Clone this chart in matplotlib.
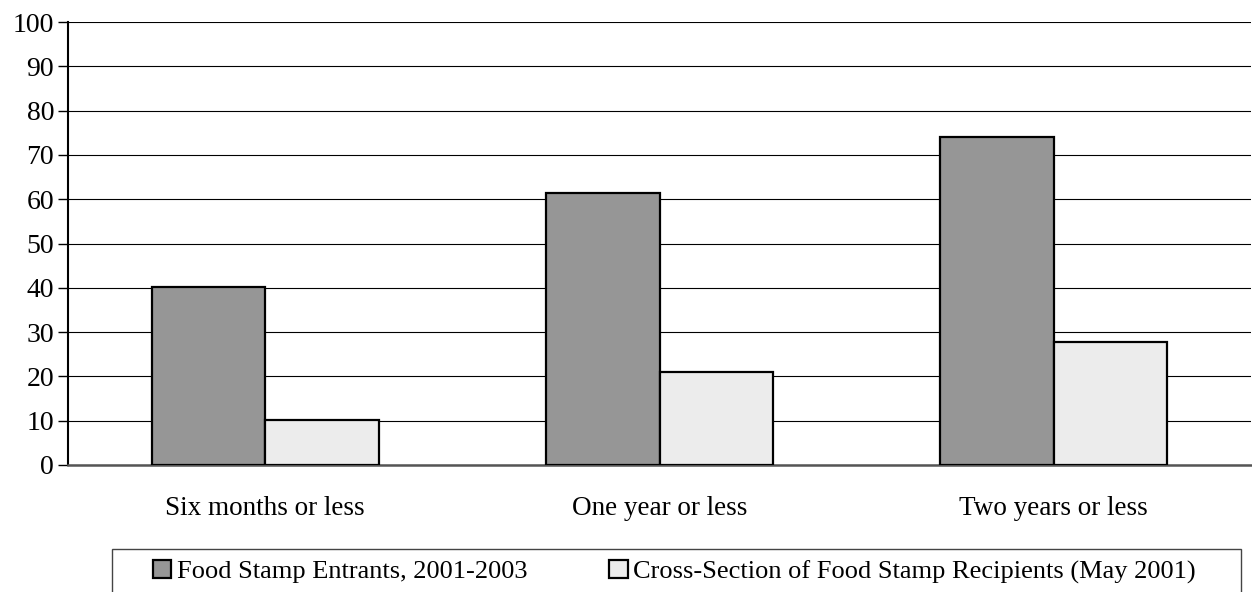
import matplotlib
matplotlib.use('Agg')
import matplotlib.pyplot as plt
import numpy as np
from matplotlib.patches import Rectangle

categories = ['Six months or less', 'One year or less', 'Two years or less']
entrants = [40.2, 61.4, 74.1]
cross_section = [10.1, 20.9, 27.7]
series_labels = ['Food Stamp Entrants, 2001-2003',
                 'Cross-Section of Food Stamp Recipients (May 2001)']
yticks = list(range(0, 101, 10))

plt.rcParams['font.family'] = ['Liberation Serif', 'DejaVu Serif']
fs = 19.5

fig = plt.figure(figsize=(12.52, 5.92), dpi=100)
ax = fig.add_axes([68 / 1252, 1 - 465 / 592, (1251 - 68) / 1252, (465 - 22) / 592])

x = np.arange(len(categories))
w = 0.288
b1 = ax.bar(x - w / 2, entrants, w, color='#969696', edgecolor='black', linewidth=1.6,
            label=series_labels[0], zorder=3)
b2 = ax.bar(x + w / 2, cross_section, w, color='#ececec', edgecolor='black', linewidth=1.6,
            label=series_labels[1], zorder=3)

ax.set_xlim(-0.5, 2.5)
ax.set_ylim(0, 100)
ax.set_yticks(yticks)
ax.set_xticks(x)
ax.set_xticklabels(categories)
ax.tick_params(axis='y', direction='out', length=7, width=1, labelsize=20, pad=3)
ax.tick_params(axis='x', length=0, labelsize=fs, pad=22)
ax.yaxis.grid(True, color='black', linewidth=0.8, zorder=0)
ax.set_axisbelow(True)
for s in ['top', 'right']:
    ax.spines[s].set_visible(False)
ax.spines['left'].set_linewidth(1.5)
ax.spines['bottom'].set_color('#555555')
ax.spines['bottom'].set_linewidth(1.8)

# legend box
fig.patches.append(Rectangle((112 / 1252, -0.01), (1241 - 112) / 1252, 0.01 + 1 - 549 / 592,
                             transform=fig.transFigure, fill=False,
                             edgecolor='#444444', linewidth=1))
fig.legend(handles=[b1, b2], labels=series_labels, loc='center left',
           bbox_to_anchor=(153 / 1252, 1 - 572 / 592), ncol=2, frameon=False,
           fontsize=19, handlelength=0.69, handleheight=0.69, handletextpad=0.22,
           columnspacing=3.1, borderaxespad=0, borderpad=0)

fig.savefig('out.png', dpi=100)
